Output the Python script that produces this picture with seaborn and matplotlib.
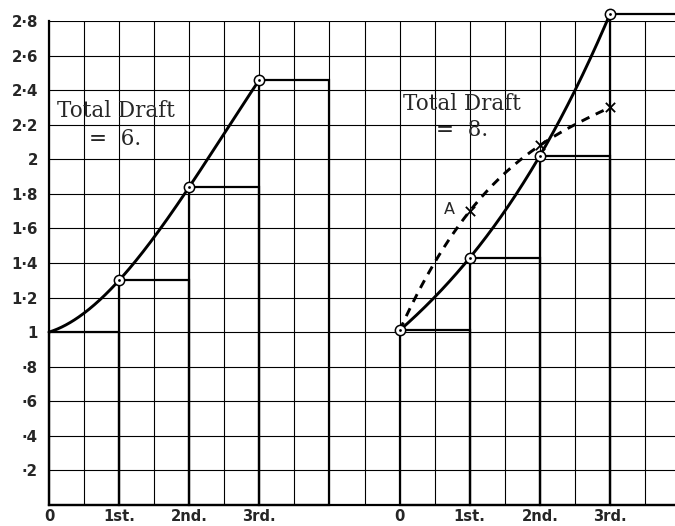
import numpy as np
import pandas as pd
import matplotlib
matplotlib.use("Agg")
import matplotlib.pyplot as plt
import seaborn as sns

# ---- data ----
stages = ["0", "1st.", "2nd.", "3rd."]
left_pos = [0, 2, 4, 6]          # column index of each stage, left diagram
right_pos = [10, 12, 14, 16]     # column index of each stage, right diagram
draft6 = [1.00, 1.30, 1.84, 2.46]          # Total Draft = 6 (solid)
draft8 = [1.01, 1.43, 2.02, 2.84]          # Total Draft = 8 (solid)
draft8_alt = [1.01, 1.70, 2.08, 2.30]      # Total Draft = 8 (dashed, curve A)
y_ticks = [0.2, 0.4, 0.6, 0.8, 1.0, 1.2, 1.4, 1.6, 1.8, 2.0, 2.2, 2.4, 2.6, 2.8]
y_labels = ["·2", "·4", "·6", "·8", "1", "1·2", "1·4", "1·6", "1·8",
            "2", "2·2", "2·4", "2·6", "2·8"]

sns.set_style("white")
plt.rcParams["font.family"] = ["DejaVu Sans"]

W, H = 675, 526
fig = plt.figure(figsize=(W / 100, H / 100), dpi=100)
ax = fig.add_axes([49 / W, 21 / H, 1 - 49 / W, 484 / H])

ncols = (W - 49) / 35.06
ax.set_xlim(0, ncols)
ax.set_ylim(0, 2.8)

# grid
ax.set_xticks(left_pos + right_pos)
ax.set_xticklabels(stages + stages, fontweight="bold", fontsize=10.6)
ax.set_xticks(np.arange(0, 18), minor=True)
ax.set_yticks(y_ticks)
ax.set_yticklabels(y_labels, fontweight="bold", fontsize=10.8)
ax.grid(True, which="both", color="black", lw=0.8)
ax.tick_params(axis="both", which="both", length=0)
ax.tick_params(axis="x", pad=2.6)
ax.tick_params(axis="y", pad=8)
for s in ["top", "right"]:
    ax.spines[s].set_visible(False)
for s in ["left", "bottom"]:
    ax.spines[s].set_color("black")
    ax.spines[s].set_linewidth(1.6)


def smooth(pos, vals):
    p = np.array(pos, float)
    t = (p - p[0]) / 2.0
    c = np.polyfit(t, vals, 3)
    tt = np.linspace(0, t[-1], 200)
    return p[0] + 2 * tt, np.polyval(c, tt)


# stage "bars" (outlined steps)
for pos, vals in [(left_pos, draft6), (right_pos, draft8)]:
    ax.bar(pos, vals, width=2, align="edge", fill=False, edgecolor="black",
           lw=1.6, clip_on=False, zorder=3)

# curves
for pos, vals, ls in [(left_pos, draft6, "-"), (right_pos, draft8, "-"),
                      (right_pos, draft8_alt, (0, (3, 2.4)))]:
    xs, ys = smooth(pos, vals)
    df = pd.DataFrame({"x": xs, "y": ys})
    sns.lineplot(data=df, x="x", y="y", ax=ax, color="black", lw=2.1,
                 sort=False, estimator=None)
    ln = ax.lines[-1]
    ln.set_linestyle(ls)
    ln.set_clip_on(False)
    ln.set_zorder(4)

# markers (the left diagram has no ring at its starting point)
pts = pd.DataFrame({"x": left_pos[1:] + right_pos, "y": draft6[1:] + draft8})
sns.scatterplot(data=pts, x="x", y="y", ax=ax, s=55, facecolor="white",
                edgecolor="black", linewidth=1.1, zorder=5, clip_on=False)
sns.scatterplot(data=pts, x="x", y="y", ax=ax, s=4, color="black",
                zorder=6, clip_on=False, linewidth=0)
crs = pd.DataFrame({"x": right_pos[1:], "y": draft8_alt[1:]})
sns.scatterplot(data=crs, x="x", y="y", ax=ax, marker="x", s=45,
                color="black", linewidth=1.3, zorder=6, clip_on=False)

ax.set_xlabel("")
ax.set_ylabel("")

# text labels
serif = ["DejaVu Serif"]
ax.text(1.91, 2.28, "Total Draft", family=serif, fontsize=15.5,
        ha="center", va="center", zorder=7)
ax.text(1.88, 2.115, "=  6.", family=serif, fontsize=15.5,
        ha="center", va="center", zorder=7)
ax.text(11.78, 2.32, "Total Draft", family=serif, fontsize=15.5,
        ha="center", va="center", zorder=7)
ax.text(11.78, 2.17, "=  8.", family=serif, fontsize=15.5,
        ha="center", va="center", zorder=7)
ax.text(11.42, 1.71, "A", fontsize=11.5, ha="center", va="center", zorder=7)

fig.savefig("out.png", dpi=100, facecolor="white")
